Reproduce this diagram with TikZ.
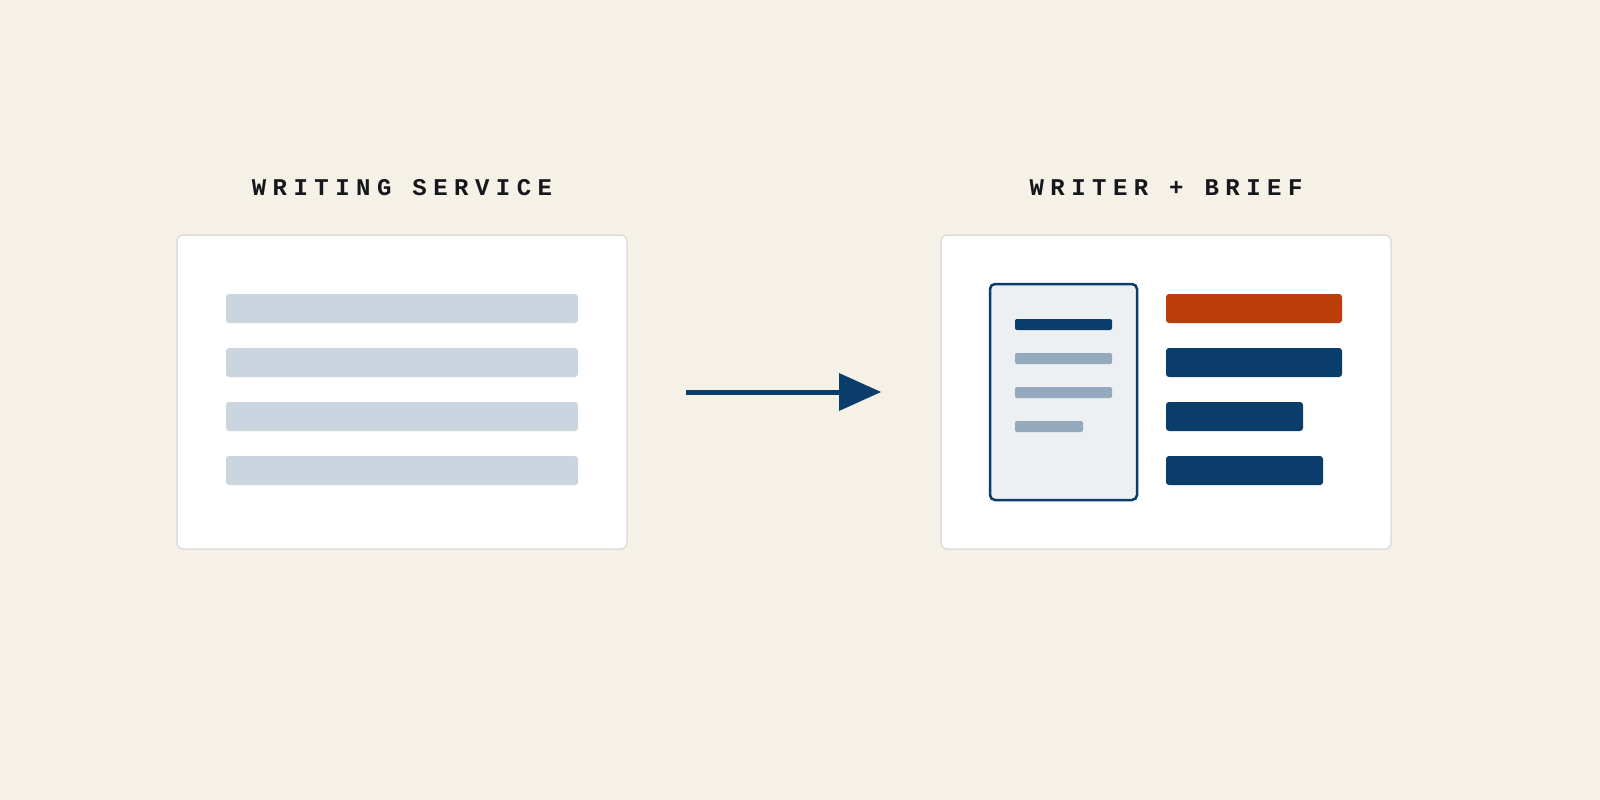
\documentclass[tikz,border=0pt]{standalone}
\usepackage{fontspec}
\newfontfamily\monob[LetterSpace=27]{Liberation Mono}
\begin{document}
\definecolor{bg}{HTML}{F5F1E7}
\definecolor{bord}{HTML}{DDDDDD}
\definecolor{pale}{HTML}{CAD5DF}
\definecolor{navy}{HTML}{0B3D6B}
\definecolor{mid}{HTML}{94A9BC}
\definecolor{docbg}{HTML}{ECF0F3}
\definecolor{rust}{HTML}{BB3D0C}
\definecolor{ink}{HTML}{15171C}
\begin{tikzpicture}[x=1pt,y=-1pt,
  card/.style={fill=white,draw=bord,line width=1.5pt,rounded corners=6pt},
  bar/.style={rounded corners=3pt},
  ttl/.style={font=\monob\bfseries\fontsize{24}{28}\selectfont,text=ink}]
\fill[bg] (0,0) rectangle (1600,800);
\node[ttl] (t1) at (402,188) {WRITING SERVICE};
\node[ttl] (t2) at (1166,188) {WRITER + BRIEF};
\draw[card] (177,235) rectangle (627,549);
\draw[card] (941,235) rectangle (1391,549);
\foreach \y in {294,348,402,456}
  \fill[pale,bar] (226,\y) rectangle (578,\y+29);
\draw[fill=docbg,draw=navy,line width=2.5pt,rounded corners=5pt] (990,284) rectangle (1137,500);
\fill[navy,rounded corners=2pt] (1015,319) rectangle (1112,330);
\fill[mid,rounded corners=2pt] (1015,353) rectangle (1112,364);
\fill[mid,rounded corners=2pt] (1015,387) rectangle (1112,398);
\fill[mid,rounded corners=2pt] (1015,421) rectangle (1083,432);
\fill[rust,bar] (1166,294) rectangle (1342,323);
\fill[navy,bar] (1166,348) rectangle (1342,377);
\fill[navy,bar] (1166,402) rectangle (1303,431);
\fill[navy,bar] (1166,456) rectangle (1323,485);
\coordinate (a) at (686,392);
\coordinate (b) at (841,392);
\coordinate (tip) at (881,392);
\draw[navy,line width=5pt] (a) -- (b);
\fill[navy] (839,373) -- (tip) -- (839,411) -- cycle;
\pgfresetboundingbox
\useasboundingbox (0,0) rectangle (1600,800);
\end{tikzpicture}
\end{document}
